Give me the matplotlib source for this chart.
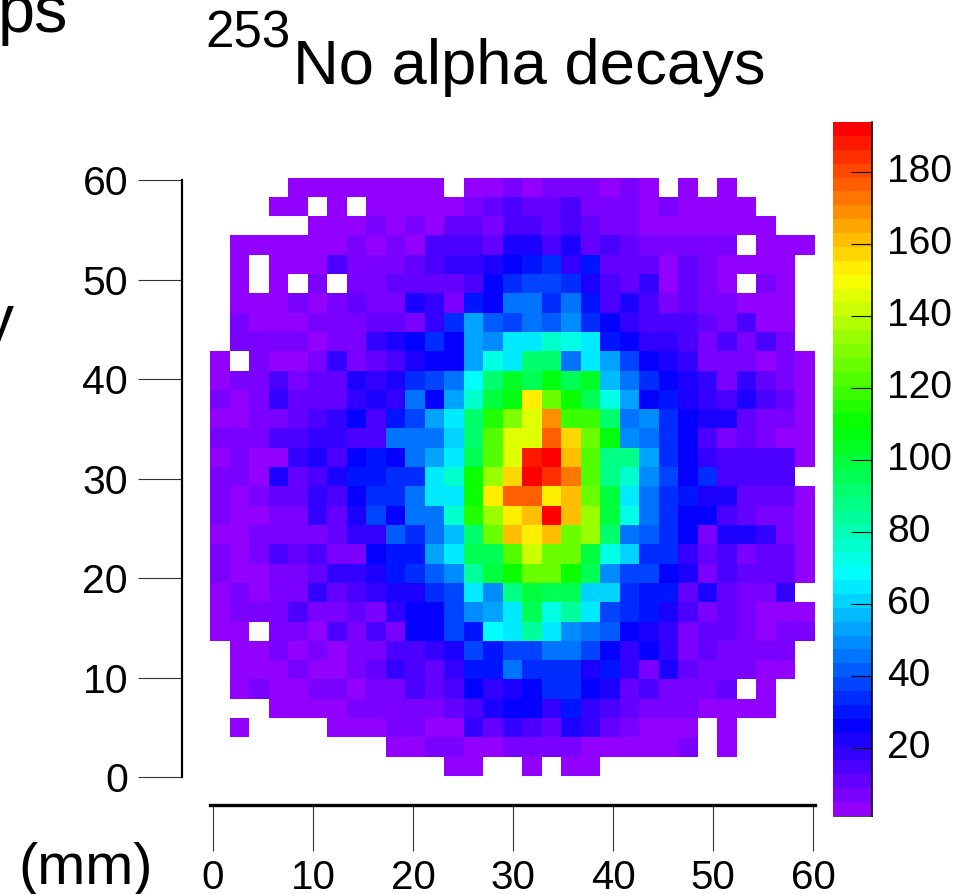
import colorsys
import numpy as np
import matplotlib
matplotlib.use('Agg')
import matplotlib.pyplot as plt
from matplotlib.colors import ListedColormap, Normalize

plt.rcParams['font.family'] = ['Liberation Sans', 'DejaVu Sans']

W, H = 968, 894

# counts per pixel, top row first, 0 = no counts (left white)
counts = [
    [0,0,0,0,2,2,2,2,2,2,2,2,0,3,3,7,4,7,7,7,4,7,3,0,2,0,2,0,0,0,0],
    [0,0,0,2,2,0,2,0,2,2,2,2,2,7,12,13,12,12,16,6,6,6,3,6,3,3,3,3,0,0,0],
    [0,0,0,0,0,2,2,2,6,4,7,4,12,12,8,16,16,12,16,12,6,6,3,3,3,3,3,3,3,0,0],
    [0,2,2,2,2,2,2,5,3,6,3,13,13,16,11,22,22,14,23,12,16,10,7,7,7,5,5,0,3,3,3],
    [0,3,0,3,3,3,13,6,6,6,11,16,18,18,22,27,29,33,19,29,11,11,11,4,12,8,3,3,3,3,0],
    [0,3,0,3,0,8,0,6,6,10,10,10,10,15,28,34,36,36,32,23,16,11,19,4,12,8,3,0,8,4,0],
    [0,3,3,3,8,4,7,11,6,8,21,17,8,31,28,44,47,34,45,30,14,24,14,6,10,8,6,4,4,4,0],
    [0,7,4,4,4,6,6,6,9,9,5,18,33,53,43,39,47,43,50,35,28,19,16,14,14,11,8,13,4,4,0],
    [0,8,8,8,8,4,7,7,18,23,28,33,27,54,49,64,64,76,74,65,29,28,19,17,13,6,16,8,14,6,0],
    [3,0,8,3,3,6,19,5,12,13,23,27,27,55,73,65,91,91,47,65,55,36,28,24,19,7,7,7,4,8,3],
    [4,7,7,14,8,11,11,24,19,23,33,38,46,68,92,103,94,109,96,103,58,44,33,27,24,17,7,18,10,6,4],
    [7,4,8,18,11,11,11,20,24,20,44,28,54,78,98,109,152,128,110,95,72,54,28,30,24,18,15,21,14,10,3],
    [3,3,7,7,12,16,20,25,14,29,36,55,66,92,113,130,145,167,118,118,92,44,50,33,28,21,21,12,8,8,3],
    [7,7,7,13,13,17,20,15,15,44,44,44,60,93,122,146,146,176,157,127,108,50,44,33,28,16,6,11,8,4,3],
    [4,8,4,4,17,23,14,25,29,28,44,55,66,97,123,146,187,193,163,122,89,89,54,32,25,20,14,14,15,13,3],
    [8,8,4,21,12,15,23,30,30,33,33,64,77,110,135,158,193,184,172,123,88,76,48,36,28,33,14,14,13,13,0],
    [8,3,6,11,11,18,14,28,32,32,44,65,65,110,153,178,178,153,160,127,100,66,44,32,31,21,21,12,12,12,3],
    [8,3,3,6,6,20,12,21,36,28,44,44,75,116,135,152,163,192,163,134,100,74,44,33,28,28,13,10,7,7,3],
    [3,3,7,7,7,7,10,20,20,40,33,47,58,90,128,160,152,160,127,135,91,47,40,33,28,8,23,21,18,8,3],
    [7,3,8,16,11,14,8,8,28,30,30,53,66,97,97,123,140,128,125,100,72,62,34,32,20,10,14,7,12,12,3],
    [7,3,3,7,7,11,19,19,24,31,34,40,50,85,100,112,127,127,112,96,48,39,39,28,23,8,14,11,11,11,3],
    [4,8,4,7,7,17,11,15,19,24,24,33,38,66,50,88,100,95,95,62,62,34,30,30,10,22,10,7,7,17,0],
    [4,8,8,8,15,7,7,11,6,19,27,27,38,48,54,65,96,74,85,65,36,33,29,24,15,8,10,7,3,3,3],
    [3,3,0,7,8,3,13,7,15,5,28,25,37,29,68,65,85,65,48,44,41,28,21,20,7,10,10,7,4,8,8],
    [0,3,3,7,3,6,3,5,5,15,13,17,22,37,30,37,36,47,47,38,28,20,25,18,8,11,7,7,7,7,0],
    [0,3,3,3,7,3,3,6,11,18,15,11,20,29,29,45,32,35,35,24,29,17,7,21,11,7,7,7,3,3,0],
    [0,3,7,3,3,6,6,3,6,6,14,10,14,28,19,22,27,34,34,27,24,11,15,7,7,7,12,0,3,0,0],
    [0,0,0,3,3,3,3,6,6,6,6,6,10,16,21,27,28,20,30,19,15,11,7,7,7,3,3,3,3,0,0],
    [0,3,0,0,0,0,3,3,3,6,6,4,4,18,11,17,16,11,22,17,12,8,3,3,3,0,3,0,0,0,0],
    [0,0,0,0,0,0,0,0,0,3,3,6,6,3,3,7,7,7,7,3,3,3,3,3,6,0,3,0,0,0,0],
    [0,0,0,0,0,0,0,0,0,0,0,0,3,3,0,0,3,0,3,3,0,0,0,0,0,0,0,0,0,0,0],
]
x_ticks = [0, 10, 20, 30, 40, 50, 60]
y_ticks = [0, 10, 20, 30, 40, 50, 60]
cbar_ticks = [20, 40, 60, 80, 100, 120, 140, 160, 180]
z_min, z_max = 1, 194


def px(x, y):
    return x / W, 1 - y / H


def axes_px(left, top, right, bottom):
    return fig.add_axes([left / W, 1 - bottom / H, (right - left) / W, (bottom - top) / H])


# same rainbow as the ROOT palette: 50 steps of hue, 280 down to 0
n_levels = 50
palette = ListedColormap([colorsys.hls_to_rgb((280 - (i + 1) * 280 / n_levels) / 360, 0.5, 1.0)
                          for i in range(n_levels)])
palette.set_bad('white')

fig = plt.figure(figsize=(W / 100, H / 100), dpi=100)
ax = axes_px(210, 177.5, 815, 777)

grid = np.ma.masked_equal(np.array(counts, dtype=float)[::-1], 0)
x_edges = np.linspace(-0.3, 60.2, 32)
y_edges = np.linspace(0.1, 60.3, 32)
mesh = ax.pcolormesh(x_edges, y_edges, grid, cmap=palette, norm=Normalize(z_min, z_max),
                     linewidth=0, rasterized=True)
ax.set_xlim(x_edges[0], x_edges[-1])
ax.set_ylim(y_edges[0], y_edges[-1])

ax.spines['top'].set_visible(False)
ax.spines['right'].set_visible(False)
ax.spines['left'].set_position(('outward', 20))
ax.spines['left'].set_bounds(0, 60)
ax.spines['left'].set_linewidth(1.6)
ax.spines['bottom'].set_position(('outward', 20))
ax.spines['bottom'].set_linewidth(2.4)
ax.set_xticks(x_ticks)
ax.set_yticks(y_ticks)
ax.tick_params(axis='x', length=33, width=0.8, pad=6, labelsize=29, color='#333333')
ax.tick_params(axis='y', length=32, width=0.8, pad=7, labelsize=29.5, color='#333333')

cax = axes_px(833, 122, 872, 816)
cbar = fig.colorbar(mesh, cax=cax)
cbar.outline.set_visible(False)
cbar.set_ticks(cbar_ticks)
cax.tick_params(axis='y', direction='in', length=15, width=0.8, pad=11, labelsize=28)
for lab in cax.get_yticklabels():
    lab.set_verticalalignment('center')
cax.spines['right'].set_visible(True)
cax.spines['right'].set_linewidth(1.2)
cax.spines['bottom'].set_visible(True)
cax.spines['bottom'].set_linewidth(0.5)

# title and the axis titles that are cut off by the crop
fig.text(*px(205, 47), '253', fontsize=36.7, ha='left', va='baseline')
fig.text(*px(293, 84), 'No alpha decays', fontsize=45.6, ha='left', va='baseline')
fig.text(*px(68, 32), 'ps', fontsize=48, ha='right', va='baseline')
fig.text(*px(14, 340), 'y', fontsize=46, ha='right', va='baseline')
fig.text(*px(18, 884), '(mm)', fontsize=41.5, ha='left', va='baseline')

fig.savefig('out.png', dpi=100)
